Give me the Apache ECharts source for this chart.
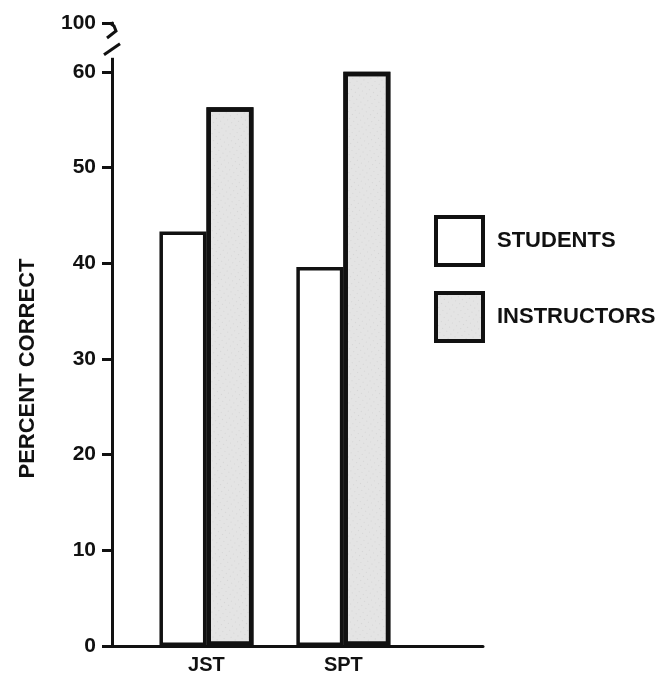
<!DOCTYPE html>
<html>
<head>
<meta charset="utf-8">
<script src="https://cdn.jsdelivr.net/npm/echarts@6/dist/echarts.min.js"></script>
<style>html,body{margin:0;padding:0;background:#fff}#c{width:668px;height:676px}</style>
</head>
<body>
<div id="c"></div>
<script>
const categories = ['JST', 'SPT'];
const students = [43.3, 39.6];
const instructors = [56.3, 60];
const yTicks = [0, 10, 20, 30, 40, 50, 60];
const breakTickLabel = '100';
const breakTickPos = 65.1;
const seriesNames = ['STUDENTS', 'INSTRUCTORS'];

const FONT = '"Liberation Sans", Arial, sans-serif';
const INK = '#111';

const chart = echarts.init(document.getElementById('c'), null, {renderer: 'canvas'});
const yCustom = yTicks.concat([breakTickPos]);
const xCustom = categories.map((c, i) => i + 1);

const stipple = {
  symbol: 'circle',
  symbolSize: 0.6,
  color: 'rgba(70,70,70,0.45)',
  dashArrayX: [[1, 4]],
  dashArrayY: [1, 4],
  rotation: 0.6
};

const option = {
  backgroundColor: '#fff',
  animation: false,
  grid: {left: 112, top: 23, right: 185, bottom: 30, containLabel: false},
  legend: {
    orient: 'vertical',
    left: 434,
    top: 215,
    padding: 0,
    itemWidth: 47,
    itemHeight: 48,
    itemGap: 24,
    icon: 'rect',
    selectedMode: false,
    itemStyle: {borderColor: INK, borderWidth: 4},
    textStyle: {fontFamily: FONT, fontWeight: 'bold', fontSize: 22, color: INK, padding: [0, 0, 0, 9]},
    data: seriesNames
  },
  xAxis: {
    type: 'value',
    min: 0.31,
    max: 3.02,
    splitLine: {show: false},
    axisTick: {show: false},
    axisLine: {show: true, onZero: false, lineStyle: {color: INK, width: 3}},
    axisLabel: {
      customValues: xCustom,
      formatter: v => categories[Math.round(v) - 1] || '',
      fontFamily: FONT, fontWeight: 'bold', fontSize: 20, color: INK, margin: 9
    }
  },
  yAxis: {
    type: 'value',
    min: 0,
    max: breakTickPos,
    name: 'PERCENT CORRECT',
    nameLocation: 'middle',
    nameGap: 73,
    nameTextStyle: {fontFamily: FONT, fontWeight: 'bold', fontSize: 22, color: INK, padding: [0, 68, 0, 0]},
    splitLine: {show: false},
    axisLine: {show: true, lineStyle: {color: INK, width: 3}},
    axisTick: {show: true, customValues: yCustom, length: 10, lineStyle: {color: INK, width: 3}},
    axisLabel: {
      customValues: yCustom,
      formatter: v => (v > 60 ? breakTickLabel : String(v)),
      fontFamily: FONT, fontWeight: 'bold', fontSize: 21, color: INK, margin: 16
    }
  },
  series: [
    {
      name: seriesNames[0],
      type: 'bar',
      barWidth: 47,
      barGap: '0%',
      data: students.map((v, i) => [i + 1, v]),
      itemStyle: {color: '#ffffff', borderColor: INK, borderWidth: 3.5}
    },
    {
      name: seriesNames[1],
      type: 'bar',
      barWidth: 47,
      barGap: '0%',
      data: instructors.map((v, i) => [i + 1, v]),
      itemStyle: {color: '#e4e4e4', borderColor: INK, borderWidth: 4.5, decal: stipple}
    }
  ]
};
chart.setOption(option);

// axis break decoration
const ax = chart.convertToPixel({gridIndex: 0}, [0.31, 0])[0];
const yp = v => chart.convertToPixel({gridIndex: 0}, [0.31, v])[1];
const yTop = yp(breakTickPos);
const y60 = yp(60);
chart.setOption({
  graphic: [
    {type: 'rect', z: 100, shape: {x: ax - 6, y: yTop + 2, width: 12, height: (y60 - 14) - (yTop + 2)}, style: {fill: '#fff'}},
    {type: 'polyline', z: 101, shape: {points: [[ax - 2, yTop], [ax + 2, yTop + 3], [ax + 4, yTop + 8], [ax - 5, yTop + 15]]}, style: {stroke: INK, lineWidth: 3, fill: null}},
    {type: 'line', z: 101, shape: {x1: ax - 8, y1: y60 - 17, x2: ax + 8, y2: y60 - 28}, style: {stroke: INK, lineWidth: 3}}
  ]
});
</script>
</body>
</html>
